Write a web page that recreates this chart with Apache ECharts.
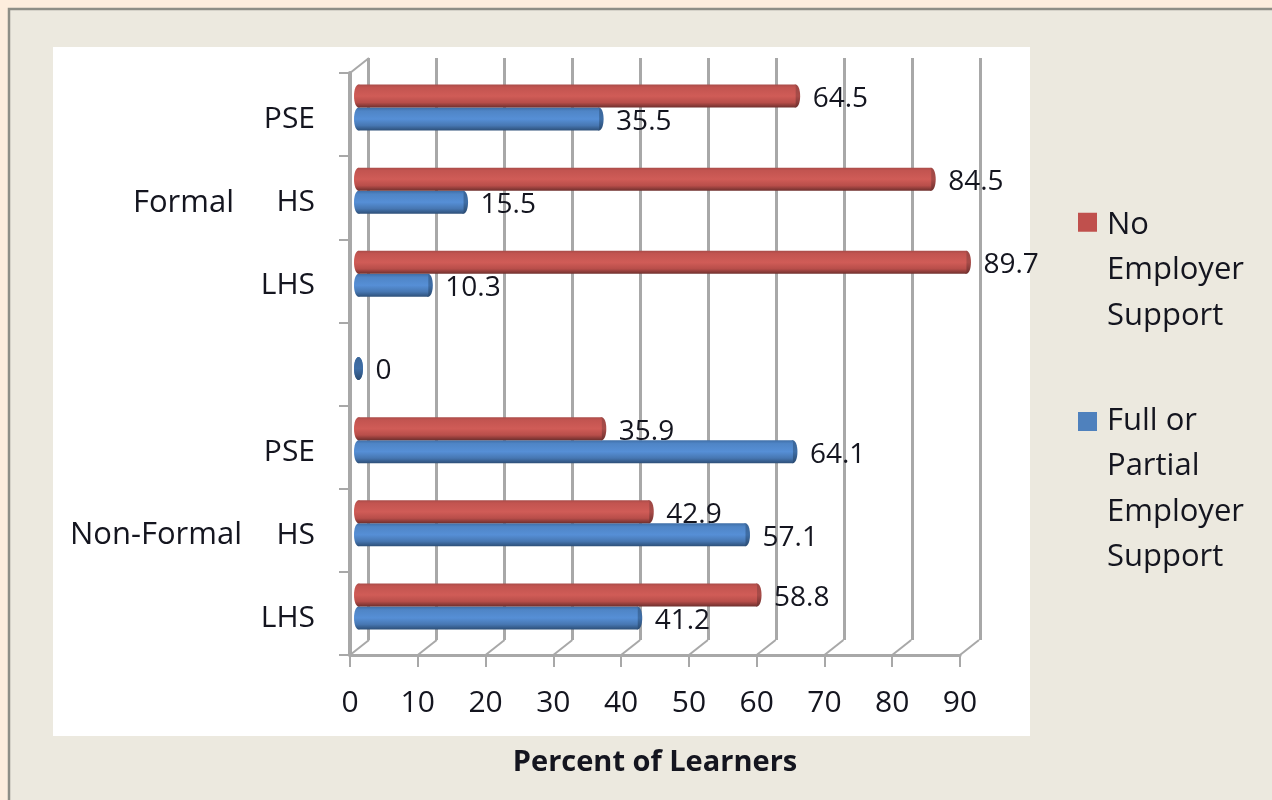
<!DOCTYPE html>
<html>
<head>
<meta charset="utf-8">
<style>html,body{margin:0;padding:0;background:#fdeddd}#c{width:1272px;height:800px}</style>
<script src="https://cdn.jsdelivr.net/npm/echarts@6/dist/echarts.min.js"></script>
</head>
<body>
<div id="c"></div>
<script>
const levels = ['LHS', 'HS', 'PSE', '', 'LHS', 'HS', 'PSE'];
const groups = ['', 'Non-Formal', '', '', '', 'Formal', ''];
const fullSupport = [41.2, 57.1, 64.1, 0, 10.3, 15.5, 35.5];
const noSupport = [58.8, 42.9, 35.9, null, 89.7, 84.5, 64.5];
const valueTicks = [0, 10, 20, 30, 40, 50, 60, 70, 80, 90];
const nameNo = 'No Employer Support';
const nameFull = 'Full or Partial Employer Support';

const FONT = '"Open Sans"';
const INK = '#14151f';
const GREY = '#a8a8a8';
const DX = 19, DY = 15;

function vGrad(stops) {
  return { type: 'linear', x: 0, y: 0, x2: 0, y2: 1,
    colorStops: stops.map(s => ({ offset: s[0], color: s[1] })) };
}
const redBody = vGrad([[0, '#a94c49'], [0.12, '#c25450'], [0.5, '#d05c57'], [0.78, '#b84e4a'], [1, '#6e2f2d']]);
const blueBody = vGrad([[0, '#3f6ea6'], [0.15, '#4f85c6'], [0.5, '#568fd6'], [0.78, '#4777b2'], [1, '#2d4f78']]);
const redCap = vGrad([[0, '#9c4744'], [0.5, '#a94c49'], [1, '#6e2f2d']]);
const blueCap = vGrad([[0, '#3a6598'], [0.5, '#3f6ea6'], [1, '#2a4a70']]);

function capRenderer(dir, body, cap) {
  return function (params, api) {
    const p = api.coord([api.value(0), api.value(1)]);
    const cy = p[1] + dir * 11.5;
    const base = api.coord([0, api.value(1)]);
    return { type: 'group', children: [
      { type: 'ellipse', shape: { cx: base[0], cy: cy, rx: 4.5, ry: 11.5 }, style: { fill: body } },
      { type: 'ellipse', shape: { cx: p[0], cy: cy, rx: 4.5, ry: 11.5 }, style: { fill: cap } }
    ] };
  };
}
function toPoints(arr) {
  return arr.map((v, i) => [v, i]).filter(d => d[0] !== null);
}

const chart = echarts.init(document.getElementById('c'), null, { renderer: 'canvas' });
chart.setOption({
  animation: false,
  backgroundColor: '#fdeddd',
  textStyle: { fontFamily: FONT },
  graphic: [
    { type: 'rect', z: -20, shape: { x: 9, y: 9, width: 1280, height: 810 },
      style: { fill: '#ece9df', stroke: '#8e8e86', lineWidth: 2.5 } },
    { type: 'rect', z: -19, shape: { x: 53, y: 47, width: 977, height: 689 },
      style: { fill: '#ffffff' } }
  ],
  grid: [
    { left: 350, top: 73, width: 610, height: 582 },
    { left: 368, top: 58, width: 612, height: 582 },
    { left: 358.5, top: 66, width: 610, height: 582 },
    { left: 350, top: 78, width: 610, height: 582 }
  ],
  xAxis: [
    { gridIndex: 0, type: 'value', min: 0, max: 90, interval: 10,
      name: 'Percent of Learners', nameLocation: 'middle', nameGap: 93,
      nameTextStyle: { fontFamily: FONT, fontSize: 29, fontWeight: 'bold', color: INK },
      axisLine: { show: true, lineStyle: { color: GREY, width: 3 } },
      axisTick: { show: true, length: 12, lineStyle: { color: GREY, width: 2 } },
      axisLabel: { fontFamily: FONT, fontSize: 30, color: INK, margin: 33 },
      splitLine: { show: false } },
    { gridIndex: 1, type: 'value', min: 0, max: 90, interval: 10,
      axisLine: { show: false }, axisTick: { show: false }, axisLabel: { show: false },
      splitLine: { show: true, lineStyle: { color: GREY, width: 3 } } },
    { gridIndex: 2, type: 'value', min: 0, max: 90, interval: 10, show: false, splitLine: { show: false } },
    { gridIndex: 3, type: 'value', min: 0, max: 90, interval: 10, show: false, splitLine: { show: false } }
  ],
  yAxis: [
    { gridIndex: 0, type: 'category', data: levels,
      axisLine: { show: true, lineStyle: { color: GREY, width: 4 } },
      axisTick: { show: true, length: 11, alignWithLabel: false, lineStyle: { color: GREY, width: 2 } },
      axisLabel: { show: false } },
    { gridIndex: 1, type: 'category', data: levels, show: false },
    { gridIndex: 2, type: 'category', data: levels, show: false },
    { gridIndex: 3, type: 'category', data: levels,
      axisLine: { show: false }, axisTick: { show: false },
      axisLabel: { interval: 0, fontFamily: FONT, fontSize: 30, color: INK, margin: 35 } },
    { gridIndex: 3, type: 'category', position: 'left', offset: 108,
      data: groups.map(g => g === 'Formal' ? { value: g, textStyle: { padding: [0, 8, 0, 0] } } : g),
      axisLine: { show: false }, axisTick: { show: false },
      axisLabel: { interval: 0, fontFamily: FONT, fontSize: 31, color: INK, margin: 0 } }
  ],
  legend: [
    { show: true, left: 1073, top: 197, orient: 'vertical', itemWidth: 19, itemHeight: 135, itemGap: 0,
      icon: 'path://M0,0h0M0,10H19V29H0ZM0,135h0',
      data: [{ name: nameNo, itemStyle: { color: '#c0504d' } }],
      formatter: () => 'No\nEmployer\nSupport',
      textStyle: { fontFamily: FONT, fontSize: 31, lineHeight: 45.5, color: INK, padding: [0, 0, 0, 5] } },
    { show: true, left: 1073, top: 393, orient: 'vertical', itemWidth: 19, itemHeight: 180, itemGap: 0,
      icon: 'path://M0,0h0M0,13H19V32H0ZM0,180h0',
      data: [{ name: nameFull, itemStyle: { color: '#4f81bd' } }],
      formatter: () => 'Full or\nPartial\nEmployer\nSupport',
      textStyle: { fontFamily: FONT, fontSize: 31, lineHeight: 45.5, color: INK, padding: [0, 0, 0, 5] } }
  ],
  series: [
    { type: 'custom', name: 'walls', xAxisIndex: 0, yAxisIndex: 0, silent: true, z: 1, clip: false,
      data: valueTicks.map(v => [v]),
      encode: { x: 0 },
      renderItem: function (params, api) {
        const rect = params.coordSys;
        const x = api.coord([api.value(0), 0])[0];
        const y = rect.y + rect.height;
        const children = [{ type: 'line', shape: { x1: x, y1: y, x2: x + DX, y2: y - DY },
          style: { stroke: GREY, lineWidth: 2 } }];
        if (api.value(0) === 0) {
          children.push({ type: 'line', shape: { x1: x, y1: rect.y, x2: x + DX, y2: rect.y - DY },
            style: { stroke: GREY, lineWidth: 2 } });
        }
        return { type: 'group', children: children };
      } },
    { type: 'bar', name: nameNo, xAxisIndex: 2, yAxisIndex: 2, data: noSupport,
      barWidth: 23, barGap: '0%', z: 4,
      itemStyle: { color: redBody },
      label: { show: true, position: 'right', distance: 17, offset: [0, 3], fontFamily: FONT, fontSize: 28, color: INK } },
    { type: 'bar', name: nameFull, xAxisIndex: 2, yAxisIndex: 2, data: fullSupport,
      barWidth: 23, barGap: '0%', z: 3,
      itemStyle: { color: blueBody },
      label: { show: true, position: 'right', distance: 17, offset: [0, 3], fontFamily: FONT, fontSize: 28, color: INK } },
    { type: 'custom', name: 'fullCaps', xAxisIndex: 2, yAxisIndex: 2, silent: true, z: 3, clip: false,
      data: toPoints(fullSupport), encode: { x: 0, y: 1 },
      renderItem: capRenderer(1, blueBody, blueCap) },
    { type: 'custom', name: 'noCaps', xAxisIndex: 2, yAxisIndex: 2, silent: true, z: 4, clip: false,
      data: toPoints(noSupport), encode: { x: 0, y: 1 },
      renderItem: capRenderer(-1, redBody, redCap) }
  ]
});
</script>
</body>
</html>
